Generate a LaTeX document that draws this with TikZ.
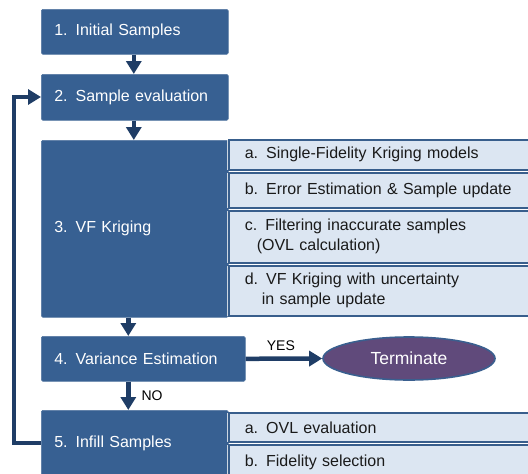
\documentclass[tikz,border=0pt]{standalone}
\usepackage{fontspec}
\setmainfont{Liberation Sans}[WordSpace=1.3]
\usetikzlibrary{arrows.meta,shapes.geometric}
\definecolor{boxblue}{HTML}{376092}
\definecolor{subfill}{HTML}{DCE6F2}
\definecolor{subline}{HTML}{385E8C}
\definecolor{arrowblue}{HTML}{1F3D66}
\definecolor{termfill}{HTML}{604A7B}
\definecolor{termline}{HTML}{3A5F8F}
\definecolor{subtext}{HTML}{1A1A1A}
\tikzset{
  stage/.style={fill=boxblue, draw=boxblue!85!white, line width=0.6pt,
    rounded corners=1.5pt, text=white, anchor=north west,
    align=left, inner xsep=13pt, inner ysep=0pt,
    font=\fontsize{16}{20}\selectfont},
  substep/.style={fill=subfill, draw=subline, line width=1.6pt,
    text=subtext, anchor=north west, align=left,
    text width=280pt, inner xsep=14pt, inner ysep=0pt,
    minimum width=312pt, font=\fontsize{16}{20}\selectfont},
  flow/.style={draw=arrowblue, line width=4.5pt,
    -{Triangle[length=13pt,width=15pt]}},
  answer/.style={font=\fontsize{14}{16}\selectfont, text=black, inner sep=0pt}
}
\begin{document}
\begin{tikzpicture}[x=1pt,y=-1pt]
  \useasboundingbox (0,0) rectangle (528,474);

  % main stages
  \node[stage, text width=161pt, minimum height=45pt] (b1) at (41,9) {1. Initial Samples};
  \node[stage, text width=161pt, minimum height=46pt] (b2) at (41,74) {2. Sample evaluation};
  \node[stage, text width=161pt, minimum height=177pt] (b3) at (41,140) {3. VF Kriging};
  \node[stage, text width=178pt, minimum height=45pt] (b4) at (41,336) {4. Variance Estimation};
  \node[stage, text width=161pt, minimum height=66pt] (b5) at (41,410) {5. Infill Samples};

  % sub-steps of VF Kriging
  \node[substep, minimum height=30pt] (s3a) at (228,139) {a. Single-Fidelity Kriging models};
  \node[substep, minimum height=35pt] (s3b) at (228,172) {b. Error Estimation \& Sample update};
  \node[substep, minimum height=52pt] (s3c) at (228,210) {c. Filtering inaccurate samples\\\hspace*{12pt}(OVL calculation)};
  \node[substep, minimum height=50pt] (s3d) at (228,265) {d. VF Kriging with uncertainty\\\hspace*{17pt}in sample update};

  % sub-steps of infill
  \node[substep, minimum height=29pt] (s5a) at (228,412) {a. OVL evaluation};
  \node[substep, minimum height=36pt] (s5b) at (228,444) {b. Fidelity selection};

  % light seams between the stage boxes and their sub-steps
  \foreach \s in {s3a,s3b,s3c,s3d,s5a,s5b}
    \draw[white!75!subline, line width=1pt] ([xshift=-0.6pt,yshift=-0.8pt]\s.north west) -- ([xshift=-0.6pt,yshift=0.8pt]\s.south west);

  % end state
  \node[ellipse, fill=termfill, draw=termline, line width=1.6pt,
        minimum width=172pt, minimum height=43pt, inner sep=0pt,
        text=white, font=\fontsize{17.5}{20}\selectfont] (term) at (409,358.5) {Terminate};

  % connectors
  \draw[flow] ([xshift=-1pt]b1.south) -- ([xshift=-1pt]b2.north);
  \draw[flow] ([xshift=-1pt]b2.south) -- ([xshift=-1pt]b3.north);
  \draw[flow] ([xshift=-6.5pt]b3.south) -- ([xshift=-6.5pt]b3.south |- b4.north);
  \draw[flow] ([xshift=-15pt]b4.south) -- ([xshift=-15pt]b4.south |- b5.north)
    node[answer, pos=0.5, right=11pt] {NO};
  \draw[flow] (b4.east) -- (term.west)
    node[answer, pos=0.46, above=6pt] {YES};
  \coordinate (loopbot) at (14,443);
  \coordinate (looptop) at (14,97);
  \draw[flow, miter limit=10] (b5.west |- loopbot) -- (loopbot) -- (looptop) -- (b2.west |- looptop);
\end{tikzpicture}
\end{document}
